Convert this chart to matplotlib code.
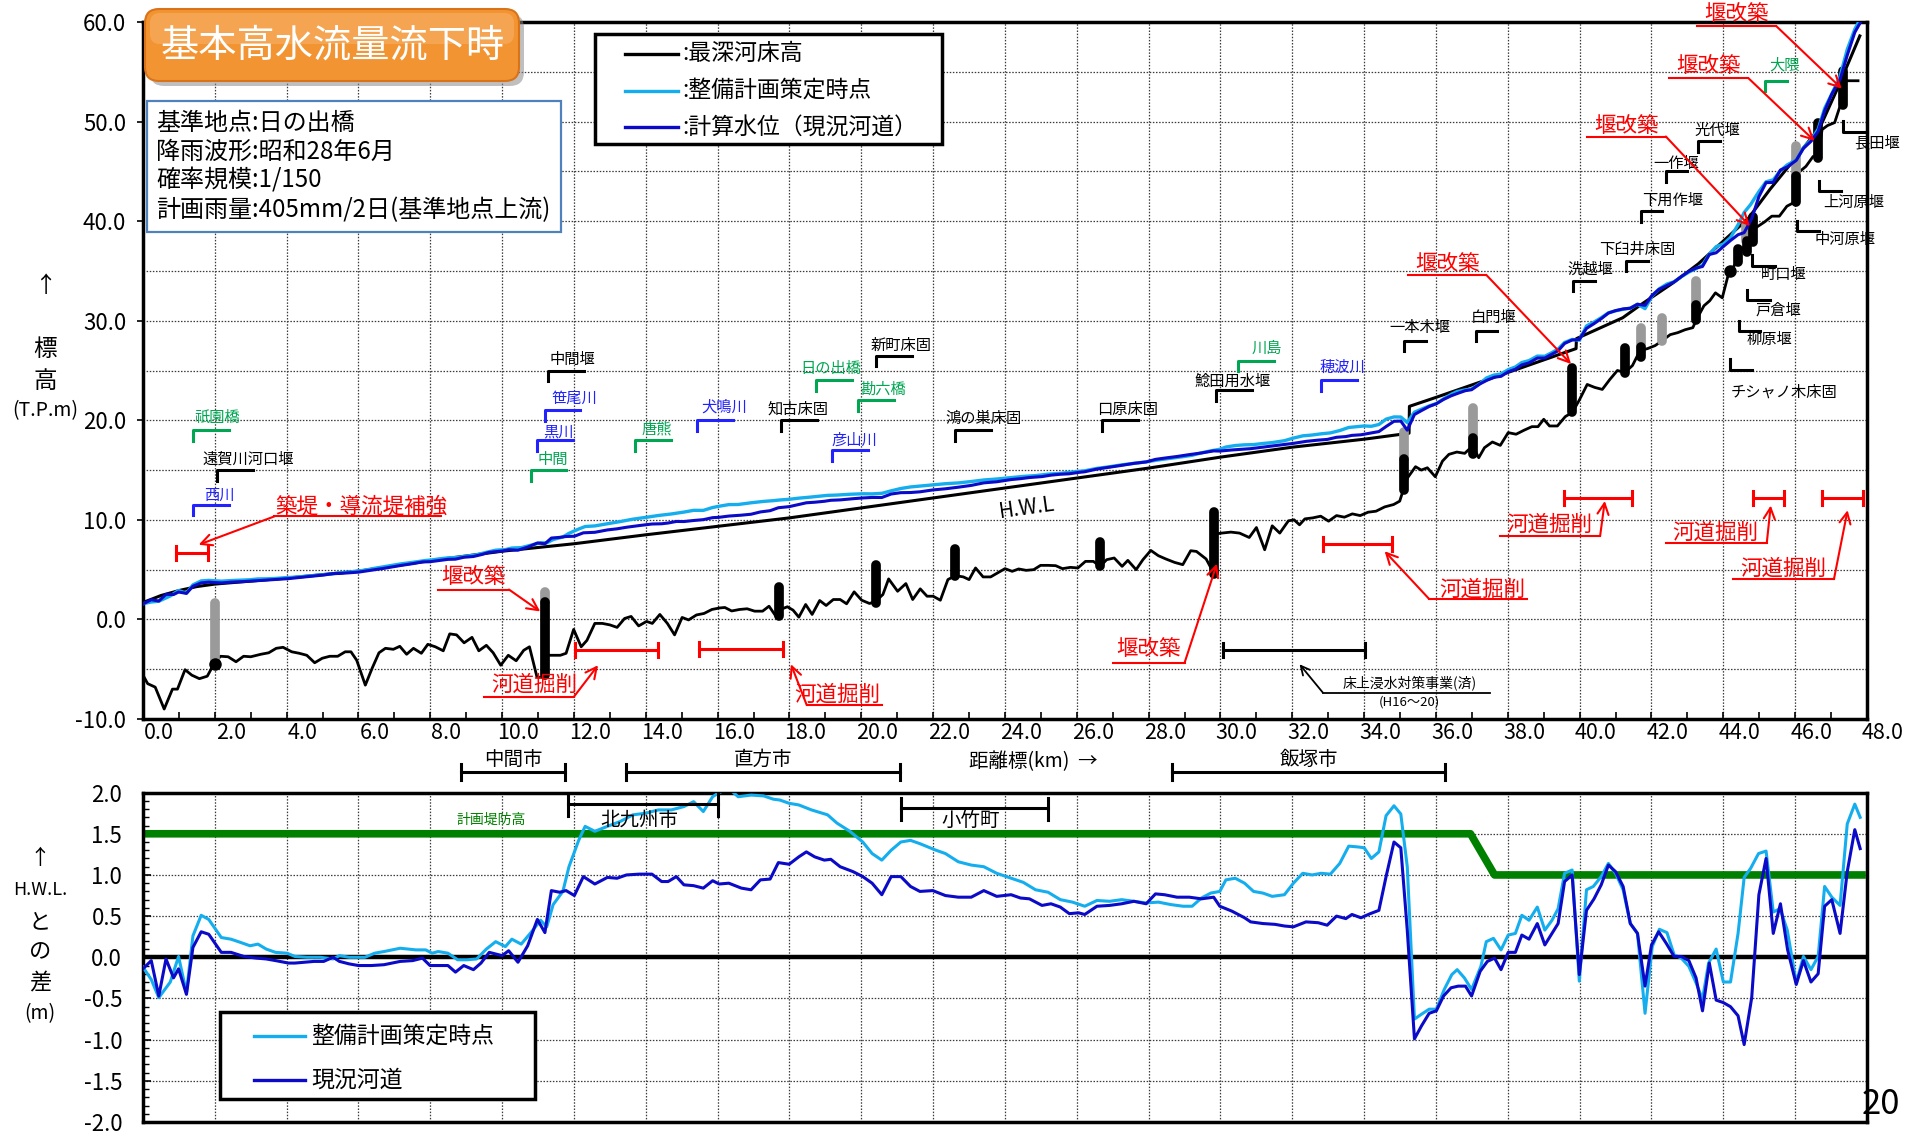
import numpy as np
import matplotlib
matplotlib.use("Agg")
import matplotlib.pyplot as plt
import matplotlib.transforms as mtrans
from matplotlib.patches import FancyBboxPatch, Rectangle
from matplotlib.lines import Line2D
from matplotlib.ticker import MultipleLocator

plt.rcParams['font.family'] = ['Noto Sans CJK JP', 'DejaVu Sans']
plt.rcParams['axes.unicode_minus'] = False

# ---------------- data ----------------
# H.W.L (km, elevation T.P.m)
hwl_km = [0.0, 0.5, 1.0, 1.5, 2.0, 4.0, 6.0, 8.0, 10.0, 12.0, 14.0, 16.0, 18.0, 20.0, 22.0, 24.0,
          26.0, 28.0, 30.0, 32.0, 34.0, 35.25, 35.26, 36.0, 38.0, 39.9, 39.91, 41.2, 41.7, 42.6,
          43.3, 44.0, 44.7, 45.3, 46.0, 46.7, 47.2, 47.8]
hwl_el = [1.7, 2.4, 2.9, 3.3, 3.55, 4.15, 4.85, 5.9, 6.85, 7.6, 8.5, 9.35, 10.2, 11.2, 12.2, 13.2,
          14.2, 15.2, 16.3, 17.3, 18.1, 18.7, 21.4, 22.3, 24.8, 27.2, 28.2, 30.3, 31.6, 33.8,
          35.7, 38.0, 40.3, 43.2, 46.3, 49.5, 53.5, 58.6]

# deepest riverbed
bed_km = [0.0, 0.13, 0.34, 0.59, 0.82, 0.96, 1.17, 1.36, 1.57, 1.79,
          2.0, 2.16, 2.37, 2.59, 2.8, 3.0, 3.28, 3.5, 3.71, 3.9,
          4.14, 4.35, 4.56, 4.78, 4.99, 5.2, 5.42, 5.63, 5.79, 5.95,
          6.19, 6.38, 6.57, 6.75, 6.97, 7.15, 7.34, 7.53, 7.75, 7.93,
          8.14, 8.36, 8.54, 8.73, 8.94, 9.16, 9.35, 9.56, 9.75, 9.96,
          10.17, 10.39, 10.6, 10.76, 10.97, 11.12, 11.2, 11.62, 11.78, 11.99,
          12.2, 12.36, 12.58, 12.79, 13.0, 13.2, 13.41, 13.59, 13.8, 14.02,
          14.18, 14.39, 14.6, 14.8, 15.01, 15.19, 15.41, 15.62, 15.84, 16.05,
          16.2, 16.39, 16.61, 16.82, 17.03, 17.25, 17.43, 17.65, 17.75, 17.94,
          18.1, 18.26, 18.45, 18.63, 18.84, 19.02, 19.22, 19.41, 19.59, 19.8,
          20.01, 20.23, 20.4, 20.6, 20.76, 21.01, 21.24, 21.43, 21.64, 21.83,
          22.0, 22.2, 22.41, 22.62, 22.84, 23.0, 23.18, 23.39, 23.6, 23.82,
          24.0, 24.2, 24.38, 24.59, 24.8, 24.99, 25.2, 25.41, 25.6, 25.82,
          26.03, 26.24, 26.46, 26.65, 26.83, 27.04, 27.26, 27.42, 27.65, 27.84,
          28.06, 28.27, 28.48, 28.72, 28.95, 29.17, 29.33, 29.6, 29.76, 29.83,
          29.9, 30.03, 30.29, 30.53, 30.8, 31.0, 31.23, 31.44, 31.65, 31.89,
          32.05, 32.2, 32.35, 32.57, 32.79, 33.01, 33.23, 33.45, 33.67, 33.89,
          34.11, 34.33, 34.57, 34.82, 34.99, 35.08, 35.21, 35.43, 35.59, 35.76,
          35.98, 36.18, 36.36, 36.58, 36.8, 37.02, 37.19, 37.35, 37.57, 37.79,
          38.01, 38.23, 38.45, 38.67, 38.84, 39.0, 39.16, 39.38, 39.6, 39.8,
          40.0, 40.21, 40.42, 40.63, 40.84, 41.05, 41.26, 41.47, 41.68, 41.89,
          42.1, 42.3, 42.52, 42.73, 42.94, 43.15, 43.25, 43.46, 43.62, 43.78,
          43.97, 44.15, 44.3, 44.4, 44.6, 44.77, 44.93, 45.14, 45.35, 45.56,
          45.77, 45.98, 46.1, 46.3, 46.5, 46.63, 46.75, 46.9, 47.1, 47.28,
          47.33, 47.75]
bed_el = [-5.6, -6.45, -6.8, -9.0, -7.0, -7.0, -5.05, -5.6, -5.95, -5.7,
          -4.3, -3.7, -3.75, -4.25, -3.7, -3.75, -3.5, -3.35, -2.9, -2.8,
          -3.25, -3.4, -3.6, -4.35, -3.9, -3.7, -3.7, -3.25, -3.25, -4.1,
          -6.6, -4.9, -3.35, -2.9, -3.0, -2.7, -3.5, -2.9, -3.4, -2.5,
          -2.75, -3.15, -1.45, -1.55, -2.35, -1.8, -3.15, -2.6, -3.35, -4.6,
          -3.6, -4.15, -3.1, -2.75, -5.8, -5.8, -3.6, -3.6, -3.4, -1.0,
          -2.75, -2.1, -0.4, -0.4, -0.55, -0.8, 0.1, 0.3, -0.65, -0.2,
          -0.4, 0.5, -0.4, -1.55, 0.2, -0.05, 0.45, 0.6, 1.0, 1.15,
          1.2, 0.85, 1.0, 1.07, 0.83, 0.83, 1.33, 0.17, 1.0, 1.27,
          0.93, 0.23, 1.5, 0.5, 1.9, 1.4, 2.0, 2.0, 1.57, 2.77,
          1.93, 1.6, 1.83, 2.5, 4.07, 2.83, 3.6, 2.0, 3.07, 2.33,
          2.33, 1.93, 4.0, 4.4, 4.27, 4.0, 5.17, 4.27, 4.27, 4.73,
          5.1, 4.83, 5.07, 4.93, 5.0, 5.43, 5.43, 5.4, 5.1, 5.23,
          5.17, 5.83, 5.83, 5.33, 6.0, 6.17, 5.33, 5.93, 5.0, 6.0,
          6.93, 6.4, 6.07, 5.73, 5.5, 6.9, 6.83, 6.07, 5.0, 4.6,
          8.6, 8.67, 8.77, 8.67, 8.23, 9.23, 7.0, 9.4, 8.67, 9.9,
          10.0, 9.5, 10.1, 10.2, 10.37, 9.87, 10.43, 10.27, 10.6, 10.43,
          10.77, 10.87, 11.3, 11.54, 11.88, 12.9, 14.23, 15.34, 15.0, 15.23,
          14.33, 15.9, 16.58, 16.81, 16.68, 17.42, 16.24, 17.25, 17.82, 17.48,
          18.76, 18.6, 19.0, 19.36, 19.36, 20.1, 19.43, 19.43, 20.37, 20.8,
          22.1, 23.6, 23.3, 23.1, 24.1, 25.0, 24.8, 25.5, 27.0, 27.2,
          27.5, 28.0, 28.6, 28.8, 29.1, 29.3, 30.1, 31.5, 32.0, 32.8,
          32.3, 34.8, 35.5, 36.8, 37.5, 38.8, 39.4, 39.9, 40.5, 40.5,
          41.5, 41.9, 44.9, 45.5, 46.5, 46.3, 49.2, 49.6, 49.9, 51.9,
          54.1, 54.1]

# difference from H.W.L. : 整備計画策定時点
plan_km = [0.0, 0.23, 0.44, 0.76, 0.99, 1.21, 1.39, 1.62, 1.83, 2.18,
           2.45, 2.72, 2.98, 3.20, 3.43, 3.69, 4.01, 4.23, 4.58, 4.94,
           5.29, 5.47, 5.74, 6.18, 6.45, 6.71, 7.16, 7.60, 7.87, 8.05,
           8.22, 8.49, 8.76, 9.02, 9.29, 9.56, 9.82, 10.09, 10.27, 10.53,
           10.80, 11.07, 11.24, 11.42, 11.69, 11.86, 12.13, 12.31, 12.58, 12.93,
           13.29, 13.64, 14.0, 14.35, 14.71, 15.06, 15.33, 15.60, 15.86, 16.04,
           16.31, 16.57, 16.93, 17.28, 17.55, 17.73, 17.99, 18.26, 18.61, 19.06,
           19.32, 19.68, 20.04, 20.30, 20.57, 20.83, 21.10, 21.37, 21.63, 22.08,
           22.34, 22.70, 23.06, 23.41, 23.77, 24.17, 24.51, 24.85, 25.20, 25.54,
           25.88, 26.22, 26.56, 26.91, 27.25, 27.59, 27.93, 28.27, 28.62, 28.96,
           29.21, 29.47, 29.73, 29.98, 30.15, 30.41, 30.67, 30.92, 31.18, 31.44,
           31.78, 32.03, 32.29, 32.55, 32.80, 33.06, 33.32, 33.57, 33.83, 34.0,
           34.2, 34.41, 34.61, 34.83, 35.02, 35.2, 35.4, 35.6, 35.81, 36.01,
           36.23, 36.44, 36.59, 36.79, 36.99, 37.25, 37.4, 37.6, 37.81, 38.01,
           38.21, 38.39, 38.59, 38.82, 39.03, 39.23, 39.4, 39.58, 39.79, 39.99,
           40.19, 40.38, 40.6, 40.8, 41.0, 41.21, 41.41, 41.61, 41.82, 42.02,
           42.22, 42.43, 42.63, 42.83, 43.04, 43.24, 43.42, 43.59, 43.8, 44.0,
           44.2, 44.41, 44.58, 44.76, 44.98, 45.19, 45.39, 45.58, 45.78, 46.03,
           46.23, 46.44, 46.64, 46.82, 47.02, 47.25, 47.45, 47.66, 47.81]
plan_diff = [-0.12, -0.27, -0.49, -0.30, 0.01, -0.43, 0.26, 0.51, 0.46, 0.24,
             0.22, 0.18, 0.14, 0.16, 0.10, 0.06, 0.05, 0.01, 0.0, 0.0,
             -0.02, 0.02, 0.0, 0.0, 0.05, 0.07, 0.11, 0.09, 0.09, 0.05,
             0.07, 0.05, -0.03, -0.03, -0.02, 0.10, 0.19, 0.13, 0.22, 0.16,
             0.30, 0.45, 0.37, 0.64, 0.80, 1.10, 1.42, 1.59, 1.53, 1.59,
             1.65, 1.73, 1.75, 1.79, 1.79, 1.83, 1.89, 1.77, 1.95, 2.0,
             2.05, 1.95, 1.97, 1.96, 1.92, 1.91, 1.87, 1.85, 1.79, 1.73,
             1.63, 1.53, 1.40, 1.26, 1.18, 1.30, 1.40, 1.42, 1.38, 1.30,
             1.26, 1.16, 1.12, 1.10, 1.02, 0.96, 0.91, 0.82, 0.79, 0.70,
             0.67, 0.62, 0.69, 0.68, 0.70, 0.68, 0.66, 0.67, 0.64, 0.62,
             0.62, 0.72, 0.78, 0.80, 0.94, 0.96, 0.90, 0.80, 0.78, 0.74,
             0.76, 0.90, 1.02, 1.00, 1.02, 1.01, 1.14, 1.35, 1.34, 1.33,
             1.20, 1.28, 1.72, 1.84, 1.74, 1.10, -0.75, -0.69, -0.63, -0.63,
             -0.39, -0.21, -0.15, -0.25, -0.39, -0.11, 0.19, 0.23, 0.09, 0.27,
             0.29, 0.51, 0.45, 0.61, 0.33, 0.45, 0.59, 1.02, 1.06, -0.29,
             0.82, 0.86, 0.98, 1.14, 1.02, 0.82, 0.41, 0.29, -0.68, 0.13,
             0.34, 0.30, 0.03, -0.01, -0.11, -0.31, -0.51, -0.07, 0.10, -0.30,
             -0.30, 0.29, 0.97, 1.08, 1.26, 1.29, 0.55, 0.59, 0.33, -0.31,
             0.01, -0.15, 0.01, 0.86, 0.73, 0.63, 1.62, 1.86, 1.70]

# difference from H.W.L. : 現況河道
curr_km = [0.0, 0.23, 0.44, 0.64, 0.85, 0.99, 1.21, 1.39, 1.62, 1.83,
           2.18, 2.45, 2.81, 3.16, 3.43, 3.69, 4.05, 4.23, 4.49, 4.76,
           5.03, 5.29, 5.47, 5.74, 6.0, 6.36, 6.71, 7.16, 7.51, 7.78,
           7.99, 8.31, 8.49, 8.70, 8.93, 9.20, 9.41, 9.64, 10.0, 10.18,
           10.44, 10.71, 10.98, 11.19, 11.37, 11.6, 11.78, 12.01, 12.26, 12.58,
           12.93, 13.2, 13.46, 13.82, 14.17, 14.44, 14.62, 14.85, 15.06, 15.33,
           15.6, 15.86, 16.04, 16.31, 16.66, 16.93, 17.19, 17.46, 17.69, 17.99,
           18.26, 18.47, 18.7, 18.97, 19.15, 19.41, 19.77, 20.04, 20.30, 20.57,
           20.83, 21.10, 21.37, 21.63, 21.99, 22.34, 22.70, 23.06, 23.41, 23.77,
           24.17, 24.43, 24.68, 25.03, 25.28, 25.54, 25.79, 26.05, 26.22, 26.56,
           26.91, 27.25, 27.59, 27.93, 28.19, 28.44, 28.79, 29.13, 29.47, 29.81,
           29.98, 30.32, 30.67, 30.84, 31.18, 31.52, 31.78, 32.03, 32.38, 32.72,
           32.97, 33.23, 33.49, 33.66, 33.91, 34.17, 34.41, 34.61, 34.83, 35.02,
           35.2, 35.4, 35.6, 35.81, 36.01, 36.21, 36.42, 36.62, 36.82, 36.99,
           37.23, 37.43, 37.63, 37.81, 38.01, 38.21, 38.39, 38.59, 38.82, 39.03,
           39.23, 39.4, 39.58, 39.79, 39.99, 40.19, 40.4, 40.6, 40.8, 41.0,
           41.21, 41.41, 41.61, 41.82, 42.0, 42.2, 42.41, 42.63, 42.83, 43.04,
           43.24, 43.42, 43.61, 43.8, 44.0, 44.2, 44.41, 44.58, 44.79, 44.99,
           45.19, 45.39, 45.59, 45.79, 46.03, 46.23, 46.44, 46.64, 46.82, 47.02,
           47.25, 47.45, 47.66, 47.81]
curr_diff = [-0.14, -0.04, -0.47, -0.02, -0.25, -0.14, -0.45, 0.12, 0.31, 0.28,
             0.06, 0.06, 0.01, -0.01, -0.02, -0.04, -0.07, -0.07, -0.06, -0.05,
             -0.05, 0.0, -0.05, -0.08, -0.10, -0.10, -0.09, -0.05, -0.04, -0.01,
             -0.10, -0.10, -0.10, -0.18, -0.10, -0.15, -0.07, 0.06, 0.02, 0.08,
             -0.06, 0.14, 0.46, 0.30, 0.81, 0.79, 0.81, 0.75, 0.98, 0.89,
             0.97, 0.96, 1.0, 1.01, 1.01, 0.92, 0.92, 0.98, 0.88, 0.87,
             0.84, 0.93, 0.89, 0.90, 0.84, 0.82, 0.94, 0.95, 1.15, 1.13,
             1.22, 1.28, 1.22, 1.18, 1.19, 1.10, 1.04, 0.98, 0.90, 0.76,
             0.98, 0.98, 0.86, 0.80, 0.81, 0.75, 0.73, 0.73, 0.81, 0.74,
             0.76, 0.72, 0.71, 0.63, 0.65, 0.61, 0.53, 0.54, 0.52, 0.62,
             0.63, 0.65, 0.68, 0.65, 0.77, 0.76, 0.73, 0.73, 0.71, 0.73,
             0.62, 0.56, 0.48, 0.43, 0.41, 0.40, 0.38, 0.37, 0.43, 0.42,
             0.39, 0.50, 0.47, 0.52, 0.48, 0.53, 0.57, 0.98, 1.40, 1.33,
             0.33, -0.99, -0.83, -0.68, -0.65, -0.47, -0.37, -0.35, -0.35, -0.47,
             -0.17, -0.05, -0.01, -0.15, 0.06, 0.06, 0.27, 0.22, 0.41, 0.15,
             0.29, 0.41, 0.92, 1.0, -0.21, 0.57, 0.71, 0.88, 1.12, 1.04,
             0.86, 0.41, 0.29, -0.35, 0.15, 0.31, 0.17, 0.01, 0.01, -0.04,
             -0.25, -0.65, -0.07, -0.52, -0.55, -0.60, -0.71, -1.06, -0.49, 0.76,
             1.20, 0.29, 0.65, 0.09, -0.33, -0.04, -0.30, -0.20, 0.62, 0.70,
             0.29, 1.04, 1.55, 1.32]

# planned levee freeboard (計画堤防高)
levee_km = [0.0, 36.96, 37.63, 47.86]
levee_d = [1.5, 1.5, 1.0, 1.0]

# weirs: (km, bottom, top)
weir_black = [(11.2, -5.6, 1.8), (17.72, 0.3, 3.3), (20.42, 1.7, 5.5), (22.62, 4.4, 7.1),
              (26.65, 5.4, 7.8), (29.82, 4.6, 10.8), (35.1, 13.0, 16.1), (37.02, 16.6, 18.2),
              (39.8, 20.8, 25.3), (41.25, 24.7, 27.3), (41.7, 26.4, 27.4), (43.25, 30.1, 31.6),
              (44.42, 35.9, 37.2), (44.65, 36.9, 38.0), (44.83, 37.9, 40.4), (46.02, 41.9, 44.5),
              (46.63, 46.3, 49.9), (47.33, 51.7, 55.1)]
weir_gray = [(2.0, -4.2, 1.7), (11.2, 1.8, 2.8), (35.1, 16.1, 18.8), (37.02, 18.2, 21.2),
             (41.7, 27.5, 29.3), (42.3, 28.0, 30.3), (43.25, 31.6, 34.0), (44.63, 38.0, 39.6),
             (46.02, 44.5, 47.5)]
weir_dots = [(2.0, -4.45), (44.18, 35.0)]

# ---------------- figure ----------------
W, H = 1915, 1136
fig = plt.figure(figsize=(W / 100, H / 100), dpi=100)
ident = mtrans.IdentityTransform()

C_LB = '#14AEEE'
C_DB = '#0A0AC8'
C_GRN = '#00A651'
C_BLU = '#2222FF'
C_RED = '#FF0000'
GRID = dict(color='#3a3a3a', linestyle=(0, (1.2, 1.3)), linewidth=0.9, zorder=0.5)

ax1 = fig.add_axes([143 / W, 1 - 719 / H, (1867 - 143) / W, (719 - 22) / H])
ax2 = fig.add_axes([143 / W, 1 - 1122 / H, (1867 - 143) / W, (1122 - 792.6) / H])

# ---- upper axes ----
ax1.set_xlim(0, 48)
ax1.set_ylim(-10, 60)
for x in np.arange(2, 48, 2):
    ax1.axvline(x, **GRID)
for y in np.arange(-5, 60, 5):
    ax1.axhline(y, **GRID)
for sp in ax1.spines.values():
    sp.set_linewidth(2.5)

xt = np.arange(0, 49, 2)
ax1.set_xticks(xt)
ax1.set_xticklabels([f"{v:.1f}" for v in xt])
ax1.xaxis.set_minor_locator(MultipleLocator(1))
ax1.tick_params(axis='x', which='both', direction='in', length=5, width=1.2, pad=2, labelsize=15.5)
off = mtrans.ScaledTranslation(16 / 100, 0, fig.dpi_scale_trans)
for lbl in ax1.get_xticklabels():
    lbl.set_horizontalalignment('center')
    lbl.set_transform(lbl.get_transform() + off)
yt = np.arange(-10, 61, 10)
ax1.set_yticks(yt)
ax1.set_yticklabels([f"{v:.1f}" for v in yt])
ax1.tick_params(axis='y', direction='out', length=4, width=1.2, pad=8, labelsize=16)

# series
plan_wl = np.interp(plan_km, hwl_km, hwl_el) + np.array(plan_diff)
curr_wl = np.interp(curr_km, hwl_km, hwl_el) + np.array(curr_diff)
ax1.plot(bed_km, bed_el, color='black', lw=2.0, zorder=3)
ax1.plot(hwl_km, hwl_el, color='black', lw=2.2, zorder=3)
ax1.plot(plan_km, plan_wl, color=C_LB, lw=2.4, zorder=4)
ax1.plot(curr_km, curr_wl, color=C_DB, lw=2.2, zorder=5)

for k, b, t in weir_gray:
    ax1.plot([k, k], [b, t], color='#9a9a9a', lw=7, solid_capstyle='round', zorder=3.5)
for k, b, t in weir_black:
    ax1.plot([k, k], [b, t], color='black', lw=7, solid_capstyle='round', zorder=3.6)
for k, y in weir_dots:
    ax1.plot([k], [y], 'o', color='black', ms=8, zorder=3.7)

ax1.text(24.6, 11.2, 'H.W.L', rotation=8, fontsize=15, ha='center', va='center', zorder=6)

# bracket labels (┌ shape): text, color, x, y, width, text_x, text_y
br_left = [
    ('祇園橋', C_GRN, 1.40, 19.0, 1.0, 2.07, 20.3),
    ('遠賀川河口堰', 'black', 2.05, 15.0, 1.0, 2.92, 16.1),
    ('西川', C_BLU, 1.40, 11.5, 1.0, 2.13, 12.5),
    ('笹尾川', C_BLU, 11.18, 21.0, 1.0, 12.0, 22.25),
    ('黒川', C_BLU, 10.97, 18.0, 1.0, 11.56, 18.8),
    ('中間', C_GRN, 10.79, 15.0, 1.0, 11.4, 16.1),
    ('中間堰', 'black', 11.28, 25.0, 1.0, 11.96, 26.1),
    ('唐熊', C_GRN, 13.69, 18.0, 1.0, 14.3, 19.1),
    ('犬鳴川', C_BLU, 15.43, 20.0, 1.0, 16.17, 21.3),
    ('知古床固', 'black', 17.76, 20.0, 1.0, 18.23, 21.1),
    ('日の出橋', C_GRN, 18.73, 24.0, 1.0, 19.15, 25.2),
    ('新町床固', 'black', 20.40, 26.5, 1.0, 21.1, 27.5),
    ('勘六橋', C_GRN, 19.9, 22.0, 1.0, 20.6, 23.1),
    ('彦山川', C_BLU, 19.18, 17.0, 1.0, 19.8, 18.0),
    ('鴻の巣床固', 'black', 22.62, 19.0, 1.0, 23.4, 20.2),
    ('口原床固', 'black', 26.7, 20.0, 1.0, 27.4, 21.1),
    ('鯰田用水堰', 'black', 29.87, 23.0, 1.0, 30.35, 23.9),
    ('川島', C_GRN, 30.49, 26.0, 1.0, 31.3, 27.2),
    ('穂波川', C_BLU, 32.79, 24.0, 1.0, 33.4, 25.3),
    ('一本木堰', 'black', 35.12, 28.0, 0.6, 35.54, 29.3),
    ('白門堰', 'black', 37.1, 29.0, 0.6, 37.6, 30.3),
    ('洗越堰', 'black', 39.82, 34.0, 0.6, 40.3, 35.2),
    ('下臼井床固', 'black', 41.3, 36.0, 0.6, 41.6, 37.2),
    ('下用作堰', 'black', 41.7, 41.0, 0.6, 42.6, 42.1),
    ('一作堰', 'black', 42.4, 45.0, 0.6, 42.7, 45.8),
    ('光代堰', 'black', 43.3, 48.0, 0.6, 43.83, 49.1),
    ('大隈', C_GRN, 45.17, 54.1, 0.6, 45.7, 55.7),
]
for txt, col, x, y, w, tx, ty in br_left:
    ax1.plot([x, x, x + w], [y - 1.05, y, y], color=col, lw=2.2, zorder=6, clip_on=False)
    ax1.text(tx, ty, txt, color=col, fontsize=11, ha='center', va='center', zorder=6)

# bracket labels (└ shape): text, x, y_top, y_bot, width, text_x, text_y
br_right = [
    ('長田堰', 47.34, 50.1, 49.0, 0.65, 48.27, 47.9),
    ('上河原堰', 46.66, 44.0, 43.0, 0.62, 47.64, 41.9),
    ('中河原堰', 46.05, 40.0, 39.0, 0.62, 47.4, 38.2),
    ('町口堰', 44.81, 36.6, 35.5, 0.62, 45.67, 34.6),
    ('戸倉堰', 44.67, 33.1, 32.1, 0.62, 45.53, 31.1),
    ('柳原堰', 44.43, 30.0, 29.0, 0.6, 45.27, 28.1),
    ('チシャノ木床固', 44.19, 26.2, 25.1, 0.62, 45.7, 22.8),
]
for txt, x, yt_, yb, w, tx, ty in br_right:
    ax1.plot([x, x, x + w], [yt_, yb, yb], color='black', lw=2.2, zorder=6, clip_on=False)
    ax1.text(tx, ty, txt, color='black', fontsize=11, ha='center', va='center', zorder=6)

# red range bars (河道掘削 / 築堤)
red_bars = [(0.93, 1.80, 6.65), (12.02, 14.35, -3.1), (15.49, 17.83, -3.0), (32.85, 34.77, 7.6),
            (39.55, 41.47, 12.15), (44.82, 45.70, 12.15), (46.75, 47.90, 12.15)]
for x0, x1, y in red_bars:
    ax1.plot([x0, x1], [y, y], color=C_RED, lw=2.2, zorder=6)
    ax1.plot([x0, x0], [y - 0.7, y + 0.7], color=C_RED, lw=2.2, zorder=6)
    ax1.plot([x1, x1], [y - 0.7, y + 0.7], color=C_RED, lw=2.2, zorder=6)

# black range bar 床上浸水対策事業
ax1.plot([30.06, 34.02], [-3.05, -3.05], color='black', lw=2.2, zorder=6)
ax1.plot([30.06, 30.06], [-3.75, -2.35], color='black', lw=2.2, zorder=6)
ax1.plot([34.02, 34.02], [-3.75, -2.35], color='black', lw=2.2, zorder=6)
ax1.plot([32.85, 37.49], [-7.35, -7.35], color='black', lw=1.3, zorder=6)
ax1.annotate('', xy=(32.2, -4.5), xytext=(32.85, -7.35),
             arrowprops=dict(arrowstyle='->', color='black', lw=1.3, mutation_scale=16,
                             shrinkA=0, shrinkB=0), zorder=6)
ax1.text(35.26, -6.4, '床上浸水対策事業(済)', fontsize=10, ha='center', va='center', zorder=6)
ax1.text(35.26, -8.25, '(H16～20)', fontsize=9.5, ha='center', va='center', zorder=6)

# red callouts: text, tx, ty, ul_x0, ul_x1, ul_y, start_x, tip_x, tip_y
callouts = [
    ('築堤・導流堤補強', 6.08, 11.3, 3.66, 8.30, 10.35, 3.66, 1.55, 7.5),
    ('堰改築', 9.2, 4.3, 8.2, 10.19, 3.0, 10.19, 11.06, 0.8),
    ('河道掘削', 10.9, -6.6, 9.5, 11.99, -7.8, 11.99, 12.67, -4.6),
    ('河道掘削', 19.33, -7.6, 18.48, 20.57, -8.6, 18.48, 18.04, -4.5),
    ('堰改築', 28.0, -3.0, 27.0, 29.0, -4.35, 29.0, 29.9, 5.6),
    ('河道掘削', 37.29, 3.0, 35.81, 38.54, 2.05, 35.81, 34.57, 6.85),
    ('河道掘削', 39.16, 9.5, 37.79, 40.57, 8.4, 40.57, 40.7, 11.9),
    ('河道掘削', 43.78, 8.75, 42.41, 45.21, 7.7, 45.21, 45.32, 11.44),
    ('河道掘削', 45.67, 5.1, 44.27, 47.08, 4.05, 47.08, 47.46, 10.97),
    ('堰改築', 36.31, 35.7, 35.21, 37.4, 34.6, 37.4, 39.76, 25.65),
    ('堰改築', 41.3, 49.6, 40.2, 42.4, 48.5, 42.4, 44.74, 39.5),
    ('堰改築', 43.6, 55.6, 42.5, 44.7, 54.35, 44.7, 46.54, 48.06),
    ('堰改築', 44.37, 60.8, 43.28, 45.47, 59.6, 45.47, 47.3, 53.3),
]
for txt, tx, ty, u0, u1, uy, sx, px, py in callouts:
    ax1.text(tx, ty, txt, color=C_RED, fontsize=15.5, ha='center', va='center', zorder=7)
    ax1.plot([u0, u1], [uy, uy], color=C_RED, lw=1.5, zorder=7, clip_on=False)
    ax1.annotate('', xy=(px, py), xytext=(sx, uy),
                 arrowprops=dict(arrowstyle='->', color=C_RED, lw=1.5, mutation_scale=20,
                                 shrinkA=0, shrinkB=0), zorder=7, annotation_clip=False)

# ---- lower axes ----
ax2.set_xlim(0, 48)
ax2.set_ylim(-2, 2)
for x in np.arange(2, 48, 2):
    ax2.axvline(x, **GRID)
for y in [-1.5, -1.0, -0.5, 0.5, 1.0, 1.5]:
    ax2.axhline(y, **GRID)
for sp in ax2.spines.values():
    sp.set_linewidth(2.5)
ax2.set_xticks([])
yt2 = np.arange(-2.0, 2.01, 0.5)
ax2.set_yticks(yt2)
ax2.set_yticklabels([f"{v:.1f}" for v in yt2])
ax2.yaxis.set_minor_locator(MultipleLocator(0.1))
ax2.tick_params(axis='y', which='major', direction='in', length=6, width=1.2, pad=15, labelsize=16)
ax2.tick_params(axis='y', which='minor', direction='in', length=4, width=1.0)

ax2.axhline(0, color='black', lw=3.2, zorder=2)
ax2.plot(levee_km, levee_d, color='#008000', lw=5.5, zorder=2.5)
ax2.plot(plan_km, plan_diff, color=C_LB, lw=2.2, zorder=3)
ax2.plot(curr_km, curr_diff, color=C_DB, lw=2.2, zorder=4)
ax2.text(9.7, 1.67, '計画堤防高', color='#008000', fontsize=10, ha='center', va='center')

# municipality brackets
in_axes_towns = [('北九州市', 11.83, 16.0, 1.865), ('小竹町', 21.1, 25.2, 1.815)]
for name, x0, x1, y in in_axes_towns:
    ax2.plot([x0, x1], [y, y], color='black', lw=2.2, zorder=5, clip_on=False)
    ax2.plot([x0, x0], [y - 0.15, y + 0.12], color='black', lw=2.2, zorder=5, clip_on=False)
    ax2.plot([x1, x1], [y - 0.15, y + 0.12], color='black', lw=2.2, zorder=5, clip_on=False)
    ax2.text((x0 + x1) / 2 - 0.1, 1.66, name, fontsize=14, ha='center', va='center', zorder=5)

gap_towns = [('中間市', 8.86, 11.75), ('直方市', 13.46, 21.09), ('飯塚市', 28.65, 36.25)]
for name, x0, x1 in gap_towns:
    ax2.plot([x0, x1], [2.25, 2.25], color='black', lw=2.2, clip_on=False)
    ax2.plot([x0, x0], [2.15, 2.35], color='black', lw=2.2, clip_on=False)
    ax2.plot([x1, x1], [2.15, 2.35], color='black', lw=2.2, clip_on=False)
    ax2.text((x0 + x1) / 2, 2.40, name, fontsize=14, ha='center', va='center')
ax2.text(24.8, 2.38, '距離標(km)  →', fontsize=14, ha='center', va='center')

# ---- figure-level decorations ----
fig.add_artist(FancyBboxPatch((150, H - 86), 374, 72, boxstyle='round,pad=0,rounding_size=14',
                              transform=ident, fc='#8c8c8c', ec='none', alpha=0.55))
fig.add_artist(FancyBboxPatch((145, H - 81), 374, 72, boxstyle='round,pad=0,rounding_size=14',
                              transform=ident, fc='#F39433', ec='#D9731A', lw=1.5))
fig.add_artist(FancyBboxPatch((150, H - 44), 364, 31, boxstyle='round,pad=0,rounding_size=10',
                              transform=ident, fc='#F8B46A', ec='none', alpha=0.55))
fig.text(333 / W, 1 - 46 / H, '基本高水流量流下時', color='white', fontsize=27.5,
         ha='center', va='center')

fig.add_artist(Rectangle((147, H - 232), 414, 131, transform=ident, fc='white',
                         ec='#4F81BD', lw=1.6))
info = ['基準地点:日の出橋', '降雨波形:昭和28年6月', '確率規模:1/150', '計画雨量:405mm/2日(基準地点上流)']
for i, s in enumerate(info):
    fig.text(156 / W, 1 - (123 + 29 * i) / H, s, fontsize=17.3, ha='left', va='center')

fig.add_artist(Rectangle((595, H - 144), 347, 110, transform=ident, fc='white', ec='black', lw=2.5))
leg = [('black', ':最深河床高'), (C_LB, ':整備計画策定時点'), (C_DB, ':計算水位（現況河道）')]
for i, (c, s) in enumerate(leg):
    yy = H - (54 + 36.5 * i)
    fig.add_artist(Line2D([625, 678], [yy, yy], transform=ident, color=c, lw=2.4))
    fig.text(682 / W, yy / H, s, fontsize=16.5, ha='left', va='center')

fig.add_artist(Rectangle((220, H - 1099), 315, 87, transform=ident, fc='white', ec='black', lw=2.5))
leg2 = [(C_LB, '整備計画策定時点'), (C_DB, '現況河道')]
for i, (c, s) in enumerate(leg2):
    yy = H - (1036 + 44 * i)
    fig.add_artist(Line2D([254, 305], [yy, yy], transform=ident, color=c, lw=2.4))
    fig.text(311 / W, yy / H, s, fontsize=16.5, ha='left', va='center')

# y-axis labels
for s, y, fs in [('↑', 285, 16), ('標', 350, 17), ('高', 381, 17), ('(T.P.m)', 411, 14)]:
    fig.text(45 / W, 1 - y / H, s, fontsize=fs, ha='center', va='center')
for s, y, fs in [('↑', 858, 15), ('H.W.L.', 890, 13), ('と', 922, 16), ('の', 952, 16),
                 ('差', 983, 16), ('(m)', 1014, 14)]:
    fig.text(40 / W, 1 - y / H, s, fontsize=fs, ha='center', va='center')

fig.text(1881 / W, 1 - 1105 / H, '20', fontsize=25, ha='center', va='center')

fig.savefig('out.png', dpi=100)
